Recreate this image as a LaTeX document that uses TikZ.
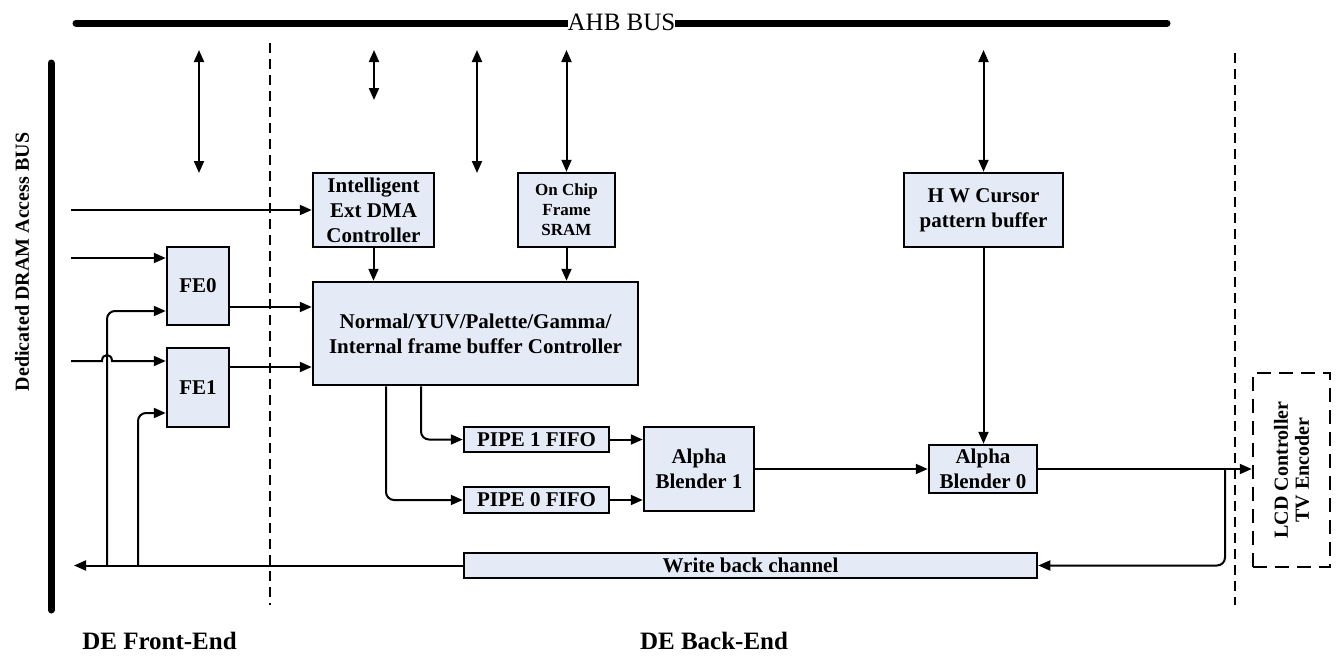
\documentclass[tikz,border=0pt]{standalone}
\usepackage{fontspec}
\setmainfont{Liberation Serif}
\usetikzlibrary{arrows.meta}
\definecolor{boxblue}{RGB}{229,235,246}

\begin{document}
\begin{tikzpicture}[x=1pt,y=-1pt,
	blk/.style={draw,line width=2.5pt,fill=boxblue,align=center,inner sep=0pt,font=\bfseries\fontsize{21}{25}\selectfont},
	conn/.style={line width=2pt,-{Triangle[length=12pt,width=10pt]}},
	twoway/.style={line width=2pt,{Triangle[length=12pt,width=10pt]}-{Triangle[length=12pt,width=10pt]}},
	bus/.style={line width=7pt,line cap=round},
	sep/.style={line width=1.5pt,dash pattern=on 10pt off 6pt},
	lbl/.style={font=\bfseries\fontsize{25}{30}\selectfont}]
	\useasboundingbox (0,0) rectangle (1341,656);
	% busses
	\draw[bus] (76,23)--(1167,23);
	\node[fill=white,inner sep=0pt,font=\fontsize{25}{30}\selectfont] (ahb) at (621.5,22) {AHB BUS};
	\draw[bus] (51,63)--(51,610);
	\node[rotate=90,font=\bfseries\fontsize{20}{24}\selectfont] (dram) at (22,262) {Dedicated DRAM Access BUS};
	\draw[sep] (270,43)--(270,605);
	\draw[sep] (1235,53)--(1235,605);
	% blocks
	\node[blk,minimum width=121pt,minimum height=74pt] (dma) at (373.5,210) {Intelligent\\Ext DMA\\Controller};
	\node[blk,minimum width=97pt,minimum height=74pt,font=\bfseries\fontsize{17}{20}\selectfont] (sram) at (566.5,210) {On Chip\\Frame\\SRAM};
	\node[blk,minimum width=159pt,minimum height=74pt] (cursor) at (983.5,210) {H W Cursor\\pattern buffer};
	\node[blk,minimum width=62pt,minimum height=78pt] (fe0) at (198,286) {FE0};
	\node[blk,minimum width=62pt,minimum height=79pt] (fe1) at (198,387.5) {FE1};
	\node[blk,minimum width=325pt,minimum height=103pt] (ctrl) at (475.5,333.5) {Normal/YUV/Palette/Gamma/\\Internal frame buffer Controller};
	\node[blk,minimum width=145pt,minimum height=25pt] (pipe1) at (536.5,439.5) {PIPE 1 FIFO};
	\node[blk,minimum width=145pt,minimum height=26pt] (pipe0) at (536.5,500) {PIPE 0 FIFO};
	\node[blk,minimum width=110pt,minimum height=84pt] (ab1) at (699,469) {Alpha\\Blender 1};
	\node[blk,minimum width=108pt,minimum height=48pt] (ab0) at (983,469) {Alpha\\Blender 0};
	\node[blk,minimum width=573pt,minimum height=25pt] (wb) at (750.5,565.5) {Write back channel};
	\node[draw,line width=2.5pt,dash pattern=on 14pt off 8pt,minimum width=77pt,minimum height=194pt] (lcd) at (1291.5,470) {};
	\node[rotate=90,align=center,font=\bfseries\fontsize{20}{21}\selectfont] (lcdtxt) at (lcd) {LCD Controller\\TV Encoder};
	% free ends
	\coordinate (ahbtop) at (0,50);
	\coordinate (p0) at (199,173);
	\coordinate (p1) at (374,100);
	\coordinate (p2) at (477,173);
	\coordinate (in0) at (71,210);
	\coordinate (in1) at (71,258);
	\coordinate (in2) at (71,361);
	\coordinate (wbend) at (74,565.5);
	\coordinate (fb0) at (107,565.5);
	\coordinate (fb1) at (138,565.5);
	\coordinate (tap) at (1225,469);
	% AHB ports
	\foreach \p in {p0,p1,p2}
		\draw[twoway] (\p |- ahbtop)--(\p);
	\draw[twoway] (sram.north |- ahbtop)--(sram.north);
	\draw[twoway] (cursor.north |- ahbtop)--(cursor.north);
	% front end
	\draw[conn] (in0)--(dma.west);
	\draw[conn] (in1)--(in1 -| fe0.west);
	\draw[conn] (in2)--(102,361) .. controls (102,353) and (112,353) .. (112,361)--(in2 -| fe1.west);
	\draw[conn] ([yshift=-21pt]fe0.east)--([yshift=-21pt]fe0.east -| ctrl.west);
	\draw[conn] ([yshift=20.5pt]fe1.east)--([yshift=20.5pt]fe1.east -| ctrl.west);
	\draw[conn] (dma.south)--(dma.south |- ctrl.north);
	\draw[conn] (sram.south)--(sram.south |- ctrl.north);
	% back end
	\draw[conn,rounded corners=8pt] ([xshift=-54.5pt]ctrl.south) |- (pipe1.west);
	\draw[conn,rounded corners=8pt] ([xshift=-89.5pt]ctrl.south) |- (pipe0.west);
	\draw[conn] (pipe1.east)--(pipe1.east -| ab1.west);
	\draw[conn] (pipe0.east)--(pipe0.east -| ab1.west);
	\draw[conn] (ab1.east)--(ab0.west);
	\draw[conn] (cursor.south)--(cursor.south |- ab0.north);
	\draw[conn] (ab0.east)--(ab0.east -| lcd.west);
	% write back
	\draw[conn,rounded corners=8pt] (tap) |- (wb.east);
	\draw[conn] (wb.west)--(wbend);
	\draw[conn,rounded corners=8pt] (fb0) |- ([yshift=-25pt]fe0.west);
	\draw[conn,rounded corners=8pt] (fb1) |- ([yshift=-25.5pt]fe1.west);
	\node[lbl] (fe) at (159.5,641) {DE Front-End};
	\node[lbl] (be) at (714,641) {DE Back-End};
\end{tikzpicture}
\end{document}
